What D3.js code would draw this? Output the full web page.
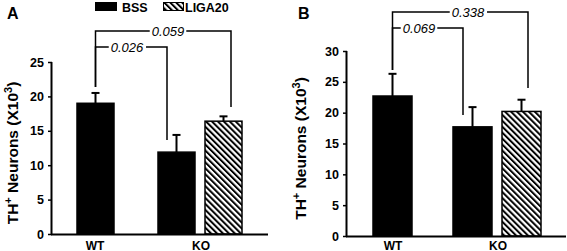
<!DOCTYPE html>
<html lang="en">
  <head>
    <meta charset="UTF-8" />
    <title>TH+ neurons</title>
    <script src="https://cdn.jsdelivr.net/npm/d3@7/dist/d3.min.js"></script>
    <style>
      body { margin: 0; background: #fff; }
      text { font-family: "Liberation Sans", Arial, sans-serif; }
    </style>
  </head>
  <body>
    <div id="wrapper"></div>
    <script>
      // data
      const groups = ['WT', 'KO']
      const seriesNames = ['BSS', 'LIGA20']
      const meanA = [19.0, 11.9, 16.4]
      const errA = [1.5, 2.5, 0.7]
      const meanB = [22.7, 17.7, 20.2]
      const errB = [3.6, 3.2, 1.9]
      const ticksA = [0, 5, 10, 15, 20, 25]
      const ticksB = [0, 5, 10, 15, 20, 25, 30]
      const pvalA = ['0.026', '0.059']
      const pvalB = ['0.069', '0.338']

      const W = 567, H = 251
      const svg = d3.select('#wrapper').append('svg')
        .attr('width', W)
        .attr('height', H)

      const defs = svg.append('defs')
      defs.append('pattern')
        .attr('id', 'hatch')
        .attr('patternUnits', 'userSpaceOnUse')
        .attr('width', 4.2)
        .attr('height', 4.2)
        .attr('patternTransform', 'rotate(-45)')
        .append('rect')
        .attr('width', 2)
        .attr('height', 4.2)
        .attr('fill', '#000')

      // legend
      const leg = svg.append('g')
      leg.append('rect').attr('x', 95).attr('y', 2).attr('width', 22).attr('height', 9).attr('fill', '#000')
      leg.append('text').attr('x', 122).attr('y', 11.5).text(seriesNames[0])
        .attr('font-size', 12.5).attr('font-weight', 'bold')
      leg.append('rect').attr('x', 163.5).attr('y', 2.5).attr('width', 20).attr('height', 8)
        .attr('fill', 'url(#hatch)').attr('stroke', '#000').attr('stroke-width', 1)
      leg.append('text').attr('x', 185).attr('y', 11.5).text(seriesNames[1])
        .attr('font-size', 12.5).attr('font-weight', 'bold')

      function drawPanel(cfg) {
        const g = svg.append('g')
        const y = d3.scaleLinear().domain([0, cfg.max]).range([cfg.y0, cfg.yTop])

        // bar slots: WT-BSS, KO-BSS, KO-LIGA20
        const bars = cfg.barX.map((x, i) => ({
          x, w: cfg.barW, v: cfg.mean[i], e: cfg.err[i], hatch: i === 2
        }))

        g.selectAll('rect.bar').data(bars).join('rect')
          .attr('class', 'bar')
          .attr('x', d => d.x)
          .attr('y', d => y(d.v))
          .attr('width', d => d.w)
          .attr('height', d => y(0) - y(d.v))
          .attr('fill', d => d.hatch ? 'url(#hatch)' : '#000')
          .attr('stroke', '#000')
          .attr('stroke-width', 1.5)

        // error bars (upper only)
        const eb = g.selectAll('g.eb').data(bars).join('g').attr('class', 'eb')
        eb.append('line')
          .attr('x1', d => d.x + d.w / 2).attr('x2', d => d.x + d.w / 2)
          .attr('y1', d => y(d.v)).attr('y2', d => y(d.v + d.e))
          .attr('stroke', '#000').attr('stroke-width', 2)
        eb.append('line')
          .attr('x1', d => d.x + d.w / 2 - 4).attr('x2', d => d.x + d.w / 2 + 4)
          .attr('y1', d => y(d.v + d.e)).attr('y2', d => y(d.v + d.e))
          .attr('stroke', '#000').attr('stroke-width', 2)

        // y axis
        const yAxis = g.append('g')
          .attr('transform', `translate(${cfg.axisX},0)`)
          .call(d3.axisLeft(y).tickValues(cfg.ticks).tickSize(4).tickPadding(4))
        yAxis.select('.domain').attr('stroke-width', 2).attr('d', `M-0.5,${y(0)}V${y(cfg.max)}`)
        yAxis.selectAll('.tick line').attr('stroke-width', 1.5)
        yAxis.selectAll('text')
          .attr('font-size', 12.5).attr('font-weight', 'bold')
          .attr('font-family', '"Liberation Sans", Arial, sans-serif')

        // x axis
        const x = d3.scaleOrdinal().domain(groups).range(cfg.groupX)
        g.append('line')
          .attr('x1', cfg.axisX - 1).attr('x2', cfg.axisEnd)
          .attr('y1', y(0) + 0.5).attr('y2', y(0) + 0.5)
          .attr('stroke', '#000').attr('stroke-width', 2)
        g.selectAll('text.xl').data(groups).join('text')
          .attr('class', 'xl')
          .attr('x', d => x(d))
          .attr('y', 249.5)
          .attr('text-anchor', 'middle')
          .attr('font-size', 12).attr('font-weight', 'bold')
          .text(d => d)

        // y label
        const lab = g.append('text')
          .attr('transform', `translate(${cfg.labX},${(y(0) + y(cfg.max)) / 2 + 5}) rotate(-90)`)
          .attr('text-anchor', 'middle')
          .attr('font-size', 15.5).attr('font-weight', 'bold')
        lab.append('tspan').text('TH')
        lab.append('tspan').text('+').attr('dy', -6).attr('font-size', 11)
        lab.append('tspan').text(' Neurons (X10').attr('dy', 6)
        lab.append('tspan').text('3').attr('dy', -6).attr('font-size', 11)
        lab.append('tspan').text(')').attr('dy', 6)

        // panel letter
        g.append('text').attr('x', cfg.letterX).attr('y', 19)
          .attr('font-size', 16).attr('font-weight', 'bold').text(cfg.letter)

        // significance brackets
        const cx = bars.map(d => d.x + d.w / 2)
        cfg.brackets.forEach(b => {
          const left = cx[0]
          g.append('path')
            .attr('d', `M${left},${b.leftEnd}V${b.y}H${b.right}V${b.rightEnd}`)
            .attr('fill', 'none').attr('stroke', '#000').attr('stroke-width', 1.5)
          const bg = g.append('rect').attr('fill', '#fff')
          const t = g.append('text')
            .attr('x', b.tx).attr('y', b.y + 4.5)
            .attr('text-anchor', 'middle')
            .attr('font-size', 13).attr('font-style', 'italic')
            .text(b.label)
          const bb = t.node().getBBox()
          bg.attr('x', bb.x - 2).attr('y', bb.y).attr('width', bb.width + 4).attr('height', bb.height)
        })
      }

      drawPanel({
        letter: 'A', letterX: 7, labX: 18,
        max: 25, ticks: ticksA, mean: meanA, err: errA,
        y0: 234, yTop: 62, axisX: 52, axisEnd: 268,
        barX: [77, 158, 205], barW: 37, groupX: [95, 201],
        brackets: [
          { y: 47, right: 167, leftEnd: 87, rightEnd: 140, tx: 127, label: pvalA[0] },
          { y: 31, right: 231, leftEnd: 87, rightEnd: 107, tx: 168, label: pvalA[1] }
        ]
      })

      drawPanel({
        letter: 'B', letterX: 298, labX: 306,
        max: 30, ticks: ticksB, mean: meanB, err: errB,
        y0: 236, yTop: 51, axisX: 347, axisEnd: 566,
        barX: [373, 453, 502], barW: 39, groupX: [393, 498],
        brackets: [
          { y: 28, right: 463, leftEnd: 70, rightEnd: 115, tx: 419, label: pvalB[0] },
          { y: 12, right: 528, leftEnd: 70, rightEnd: 88, tx: 468, label: pvalB[1] }
        ]
      })
    </script>
  </body>
</html>
